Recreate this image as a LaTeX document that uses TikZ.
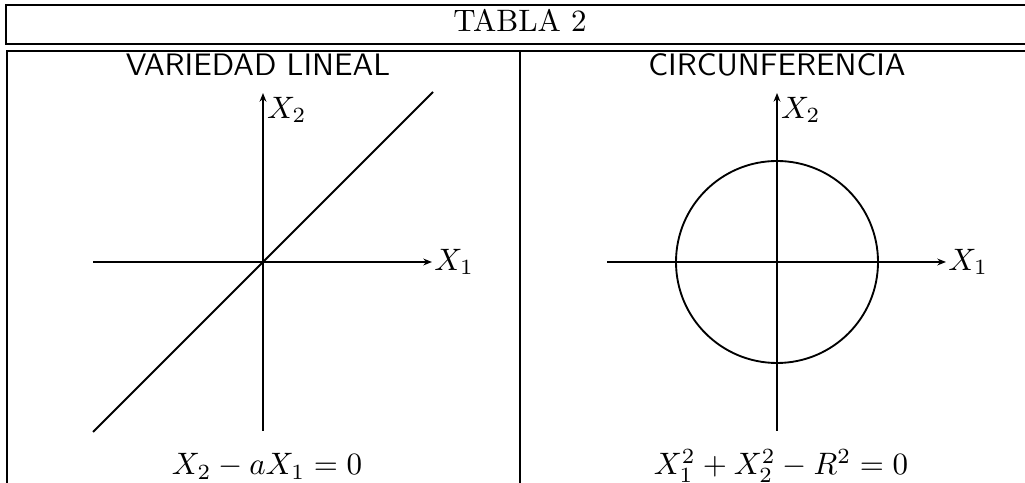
\documentclass[tikz,border=0pt]{standalone}
\usetikzlibrary{arrows.meta}
\tikzset{
  frame/.style={line width=0.7pt}, % table rules
  axis/.style={-{Stealth[length=2.8pt,width=2.2pt]}, line width=0.6pt},
  graph/.style={line width=0.6pt},
  title/.style={font=\sffamily, anchor=base},
  eq/.style={anchor=base},
}
\begin{document}
\begin{tikzpicture}[x=0.3226pt,y=-0.3226pt]
  \useasboundingbox (0,0) rectangle (1025,483);
  \clip (0,0) rectangle (1025,483);

  % table frame
  \draw[frame] (1040,5) -- (6,5) -- (6,44) -- (1040,44);
  \draw[frame] (7,500) -- (7,51) -- (1040,51);
  \draw[frame] (520,51) -- (520,500);
  \node[anchor=base] (tabla) at (520,32) {TABLA 2};

  % headings
  \node[title] (lin-title) at (258,76) {VARIEDAD LINEAL};
  \node[title] (cir-title) at (777,76) {CIRCUNFERENCIA};

  % axes of both panels
  \foreach \cx/\p in {263/lin,777/cir}{
    \coordinate (\p-o) at (\cx,262);
    \coordinate (\p-w) at (\cx-170,262);
    \coordinate (\p-e) at (\cx+169,262);
    \coordinate (\p-s) at (\cx,431);
    \coordinate (\p-n) at (\cx,93);
    \draw[axis] (\p-w) -- (\p-e) node[anchor=west, inner sep=0.5pt] (\p-x1) {$X_1$};
    \draw[axis] (\p-s) -- (\p-n) node[anchor=north west, inner sep=1pt] (\p-x2) {$X_2$};
  }

  % straight line through the origin
  \coordinate (lin-a) at (93,432);
  \coordinate (lin-b) at (433,92);
  \draw[graph] (lin-a) -- (lin-b);

  % circle
  \draw[graph] (cir-o) circle[radius=101];

  % equations
  \node[eq] (lin-eq) at (267,475) {$X_2 - aX_1 = 0$};
  \node[eq] (cir-eq) at (781,475) {$X_1^2 + X_2^2 - R^2 = 0$};
\end{tikzpicture}
\end{document}
